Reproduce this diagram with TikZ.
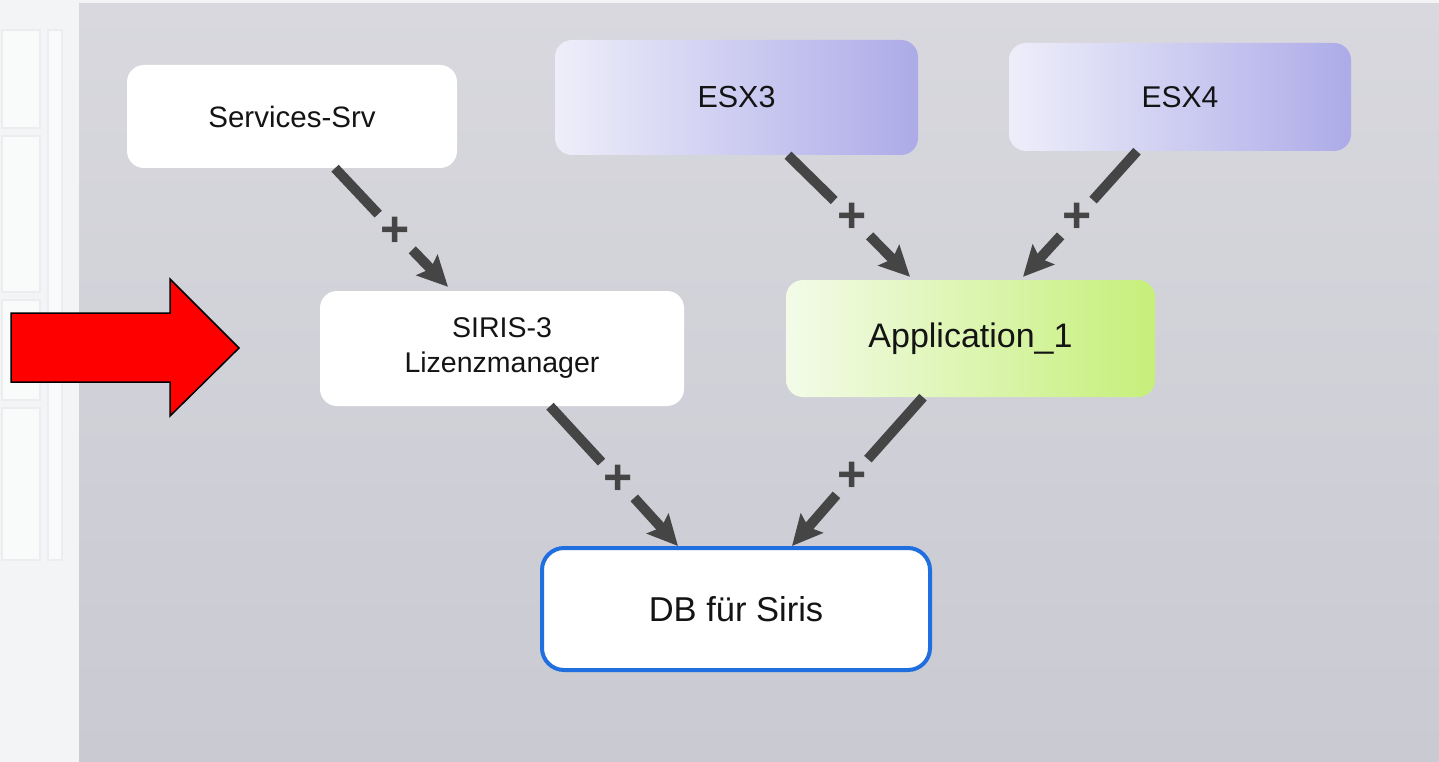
\documentclass[tikz,border=0pt]{standalone}
\usepackage{fontspec}
\setmainfont{Liberation Sans}
\usetikzlibrary{arrows.meta,calc}
\definecolor{pagewhite}{HTML}{F3F4F6}
\definecolor{framegray}{HTML}{ECEDF0}
\definecolor{bgtop}{HTML}{D8D8DE}
\definecolor{bgbot}{HTML}{C9CAD2}
\definecolor{esxL}{HTML}{EEEEFA}
\definecolor{esxR}{HTML}{ADABE8}
\definecolor{appL}{HTML}{F3FBE8}
\definecolor{appR}{HTML}{C6EF7A}
\definecolor{dbblue}{HTML}{1F6FE0}
\definecolor{arrowgray}{HTML}{454545}
\definecolor{textblack}{HTML}{141414}
\begin{document}
\begin{tikzpicture}[x=1pt,y=-1pt,
  box/.style={rounded corners=17pt, inner sep=0pt, align=center, text=textblack, draw=none},
  whitebox/.style={box, fill=white},
  esxbox/.style={box, left color=esxL, right color=esxR},
  appbox/.style={box, left color=appL, right color=appR},
  dbbox/.style={box, fill=white, draw=dbblue, line width=4pt, rounded corners=22pt},
  plus/.style={inner sep=3pt, text=arrowgray, font=\fontsize{50}{50}\bfseries\selectfont},
  conn/.style={draw=arrowgray, line width=10pt},
  tip/.style={conn, -{Stealth[length=30pt,width=29pt,inset=5pt]}},
  window/.style={draw=framegray, line width=1.5pt, fill=white!50!pagewhite}
]
\useasboundingbox (0,0) rectangle (1439,762);
% page background
\fill[pagewhite] (0,0) rectangle (1439,762);
% faint window on the left strip
\draw[window] (2,30) rectangle (40,128);
\draw[window] (2,136) rectangle (40,292);
\draw[window] (2,300) rectangle (40,400);
\draw[window] (2,408) rectangle (40,560);
\draw[window] (48,30) rectangle (62,560);
% grey canvas
\shade[top color=bgtop, bottom color=bgbot] (79,4) rectangle (1439,762);

% red arrow
\draw[fill=red, draw=black, line width=1.5pt]
  (11,313) -- (170,313) -- (170,279) -- (239,348) -- (170,416) -- (170,382) -- (11,382) -- cycle;

% nodes
\node[whitebox, minimum width=330pt, minimum height=103pt, font=\fontsize{29.5}{33}\selectfont]
  (svc) at (292,116.5) {Services-Srv};
\node[esxbox, minimum width=363pt, minimum height=115pt, font=\fontsize{30.5}{34}\selectfont]
  (esx3) at (736.5,97.5) {ESX3};
\node[esxbox, minimum width=342pt, minimum height=108pt, font=\fontsize{30}{34}\selectfont]
  (esx4) at (1180,97) {ESX4};
\node[whitebox, minimum width=364pt, minimum height=115pt, font=\fontsize{28.5}{35}\selectfont]
  (siris) at (502,348.5) {SIRIS-3\\Lizenzmanager};
\node[appbox, minimum width=369pt, minimum height=117pt, font=\fontsize{34}{38}\selectfont]
  (app) at (970.5,338.5) {Application\_1};
\node[dbbox, minimum width=388pt, minimum height=122pt, font=\fontsize{34.5}{38}\selectfont]
  (db) at (736,609) {DB für Siris};

% plus labels
\node[plus] (p1) at (395,232) {+};
\node[plus] (p2) at (852,218) {+};
\node[plus] (p3) at (1077,218) {+};
\node[plus] (p4) at (618,480) {+};
\node[plus] (p5) at (852,477) {+};

% connectors
\draw[conn] ([xshift=43pt]svc.south) -- (p1);
\draw[tip] (p1) -- ([xshift=-54pt,yshift=4pt]siris.north);

\draw[conn] ([xshift=51.5pt]esx3.south) -- (p2);
\draw[tip] (p2) -- ([xshift=-60.5pt,yshift=3pt]app.north);

\draw[conn] ([xshift=-43pt]esx4.south) -- (p3);
\draw[tip] (p3) -- ([xshift=52.5pt,yshift=3pt]app.north);

\draw[conn] ([xshift=48pt]siris.south) -- (p4);
\draw[tip] (p4) -- ([xshift=-58pt]db.north);

\draw[conn] ([xshift=-47.5pt]app.south) -- (p5);
\draw[tip] (p5) -- ([xshift=56pt]db.north);
\end{tikzpicture}
\end{document}
